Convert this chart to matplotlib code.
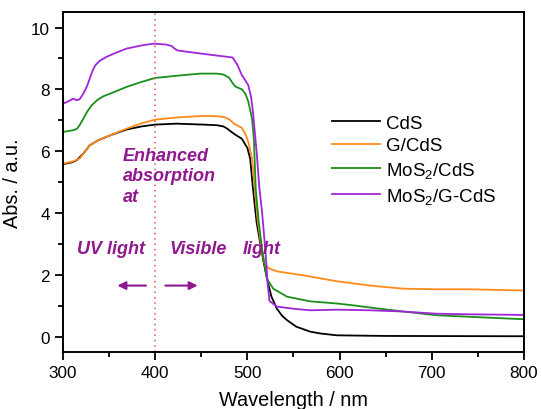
import matplotlib
matplotlib.use("Agg")
import matplotlib.pyplot as plt
from matplotlib.ticker import MultipleLocator

plt.rcParams['font.family'] = ['Liberation Sans', 'DejaVu Sans']
plt.rcParams['mathtext.fontset'] = 'custom'
plt.rcParams['mathtext.rm'] = 'Liberation Sans'
plt.rcParams['mathtext.it'] = 'Liberation Sans:italic'

# absorbance spectra (wavelength nm, abs a.u.)
wl_cds = [300, 310, 315, 322, 329, 338, 351, 369, 385, 400, 423, 452, 467, 474, 478, 486, 494, 500,
          503, 506, 510, 514, 518, 522, 526, 532, 538, 543, 553, 568, 579, 597, 650, 800]
abs_cds = [5.58, 5.64, 5.71, 5.92, 6.19, 6.35, 6.51, 6.70, 6.80, 6.86, 6.89, 6.86, 6.84, 6.80, 6.73, 6.55, 6.40, 6.10,
           5.76, 4.80, 3.70, 3.00, 2.35, 1.78, 1.30, 0.90, 0.66, 0.53, 0.32, 0.16, 0.10, 0.04, 0.02, 0.01]

wl_gcds = [300, 310, 318, 323, 329, 338, 351, 369, 385, 400, 423, 452, 467, 475, 481, 486, 490, 494, 498, 501, 505,
           508, 511, 515, 519, 524, 532, 561, 597, 633, 669, 705, 741, 800]
abs_gcds = [5.60, 5.66, 5.76, 5.95, 6.19, 6.35, 6.51, 6.73, 6.90, 7.02, 7.09, 7.14, 7.13, 7.10, 7.02, 6.88, 6.82, 6.75, 6.55, 6.30, 5.76,
            4.80, 3.80, 2.90, 2.31, 2.20, 2.11, 1.98, 1.79, 1.65, 1.55, 1.53, 1.53, 1.49]

wl_mos2 = [300, 311, 315, 318, 322, 326, 331, 337, 344, 351, 369, 385, 400, 423, 449, 467, 474, 480, 484, 487, 494, 498,
           501, 505, 507, 509, 512, 516, 521, 528, 543, 568, 597, 615, 633, 669, 705, 741, 800]
abs_mos2 = [6.62, 6.68, 6.72, 6.84, 7.05, 7.27, 7.48, 7.65, 7.78, 7.86, 8.08, 8.24, 8.37, 8.44, 8.51, 8.51, 8.48, 8.38, 8.20, 8.09, 8.00, 7.85,
            7.60, 7.06, 6.40, 4.80, 3.80, 2.80, 1.88, 1.55, 1.29, 1.14, 1.07, 1.01, 0.94, 0.81, 0.69, 0.64, 0.56]

wl_mos2g = [300, 305, 311, 315, 318, 322, 326, 329, 332, 335, 340, 347, 357, 369, 385, 398, 412, 418, 421, 424, 449, 479,
            484, 489, 494, 498, 501, 504, 506, 510, 513, 516, 520, 522, 524, 532, 550, 568, 597, 633, 669, 705, 741, 800]
abs_mos2g = [7.54, 7.60, 7.70, 7.65, 7.68, 7.86, 8.10, 8.35, 8.60, 8.78, 8.93, 9.05, 9.18, 9.32, 9.42, 9.48, 9.45, 9.40, 9.32, 9.26, 9.16, 9.05,
             9.03, 8.80, 8.46, 8.28, 8.13, 7.75, 7.28, 5.98, 4.80, 4.00, 2.60, 1.70, 1.15, 0.97, 0.90, 0.85, 0.87, 0.85, 0.81, 0.74, 0.72, 0.70]

series = [
    (wl_cds, abs_cds, 'CdS', 'black'),
    (wl_gcds, abs_gcds, 'G/CdS', '#ff8a1c'),
    (wl_mos2, abs_mos2, 'MoS$_2$/CdS', '#1a8f1a'),
    (wl_mos2g, abs_mos2g, 'MoS$_2$/G-CdS', '#a025d8'),
]

note_color = '#8f1a8f'
note_kw = dict(color=note_color, fontsize=13, fontweight='bold', style='italic')

fig = plt.figure(figsize=(5.41, 4.10), dpi=100)
ax = fig.add_axes([0.1165, 0.139, 0.852, 0.829])

for wl, ab, label, color in series:
    ax.plot(wl, ab, color=color, lw=1.3, label=label)

# UV / visible boundary
ax.axvline(400, color='#e05555', ls=(0, (1, 2.5)), lw=1.1)

ax.text(365, 6.15, 'Enhanced\nabsorption\nat', va='top', ha='left',
        linespacing=1.3, **note_kw)
ax.text(315, 2.85, 'UV light', va='center', ha='left', **note_kw)
ax.text(416, 2.85, 'Visible', va='center', ha='left', **note_kw)
ax.text(495, 2.85, 'light', va='center', ha='left', **note_kw)
ax.annotate('', xy=(359, 1.65), xytext=(390, 1.65),
            arrowprops=dict(arrowstyle='-|>', color=note_color, lw=1.5,
                            mutation_scale=12, shrinkA=0, shrinkB=0))
ax.annotate('', xy=(446, 1.65), xytext=(411, 1.65),
            arrowprops=dict(arrowstyle='-|>', color=note_color, lw=1.5,
                            mutation_scale=12, shrinkA=0, shrinkB=0))

ax.set_xlim(300, 800)
ax.set_ylim(-0.5, 10.5)
ax.xaxis.set_major_locator(MultipleLocator(100))
ax.xaxis.set_minor_locator(MultipleLocator(50))
ax.yaxis.set_major_locator(MultipleLocator(2))
ax.yaxis.set_minor_locator(MultipleLocator(1))
ax.tick_params(which='major', direction='out', length=6, width=1.3, labelsize=12.3)
ax.tick_params(which='minor', direction='out', length=3.5, width=1.3)
for sp in ax.spines.values():
    sp.set_linewidth(1.4)

ax.set_xlabel('Wavelength / nm', fontsize=14.3, labelpad=7)
ax.set_ylabel('Abs. / a.u.', fontsize=14.3, labelpad=6)

ax.legend(loc='center left', bbox_to_anchor=(0.583, 0.565), frameon=False,
          fontsize=13.5, handlelength=2.6, handletextpad=0.3, labelspacing=0.3,
          borderpad=0, borderaxespad=0)

fig.savefig('out.png', dpi=100)
